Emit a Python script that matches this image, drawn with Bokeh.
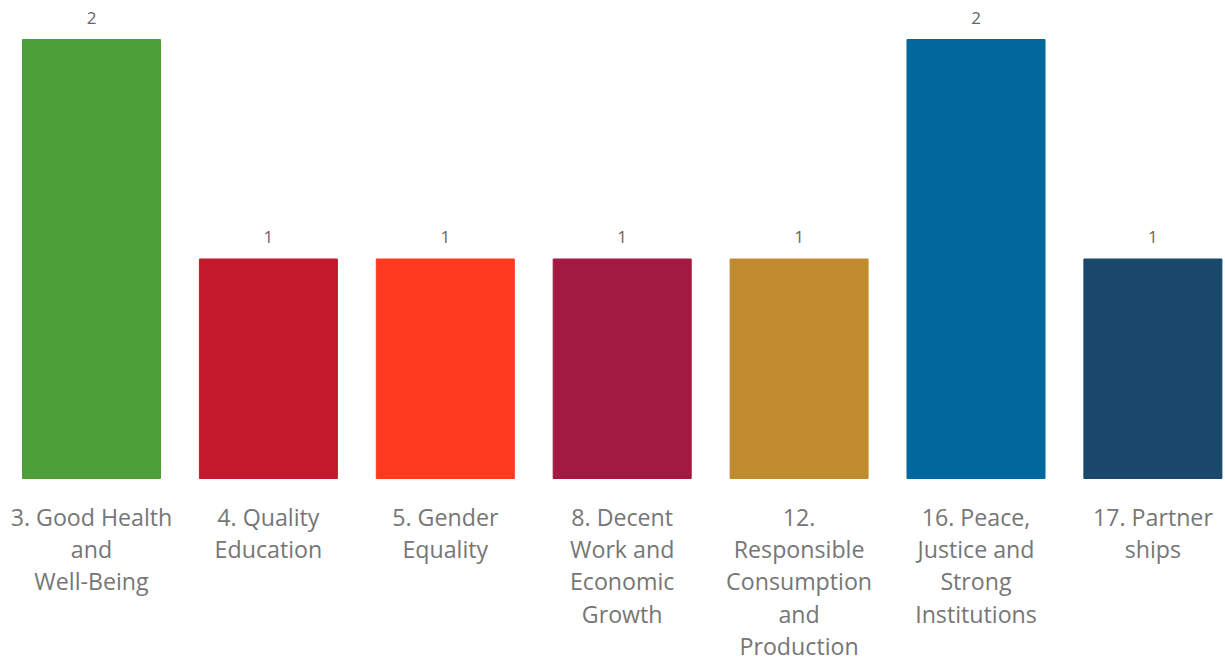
from bokeh.plotting import figure
from bokeh.models import ColumnDataSource, Range1d
from bokeh.embed import file_html
from bokeh.resources import INLINE
from bokeh.core.properties import value

categories = [
    "3. Good Health\nand\nWell-Being",
    "4. Quality\nEducation",
    "5. Gender\nEquality",
    "8. Decent\nWork and\nEconomic\nGrowth",
    "12.\nResponsible\nConsumption\nand\nProduction",
    "16. Peace,\nJustice and\nStrong\nInstitutions",
    "17. Partner\nships",
]
counts = [2, 1, 1, 1, 1, 2, 1]
colors = ["#4C9F38", "#C5192D", "#FF3A21", "#A21942", "#BF8B2E", "#00689D", "#19486A"]

W, H = 1225, 661
step = 176.9
x0 = 91.0
xs = list(range(len(categories)))
px_per_unit = 219.5
zero_px = 478.0

src = ColumnDataSource(dict(
    x=xs, top=counts, color=colors, cat=categories,
    zero=[0] * len(xs), lbl=[str(c) for c in counts],
))

p = figure(width=W, height=H, output_backend="svg", toolbar_location=None,
           x_range=Range1d(-x0 / step, -x0 / step + W / step),
           y_range=Range1d(-(H - zero_px) / px_per_unit, zero_px / px_per_unit),
           min_border=0, min_border_left=0, min_border_right=0,
           min_border_top=0, min_border_bottom=0)
p.axis.visible = False
p.grid.visible = False
p.outline_line_color = None
p.background_fill_color = "white"
p.border_fill_color = "white"

p.vbar(x="x", top="top", bottom=0, width=138 / step, color="color", source=src)

p.text(x="x", y="top", text="lbl", source=src, text_align="center",
       text_baseline="middle", y_offset=-22, text_color="#666666",
       text_font=value("Open Sans"), text_font_size="17px")

p.text(x="x", y="zero", text="cat", source=src, text_align="center",
       text_baseline="top", y_offset=22, text_color="#767676",
       text_font=value("Open Sans"), text_font_size="23.2px",
       text_line_height=1.015)

open("out.html", "w").write(file_html(p, INLINE))
